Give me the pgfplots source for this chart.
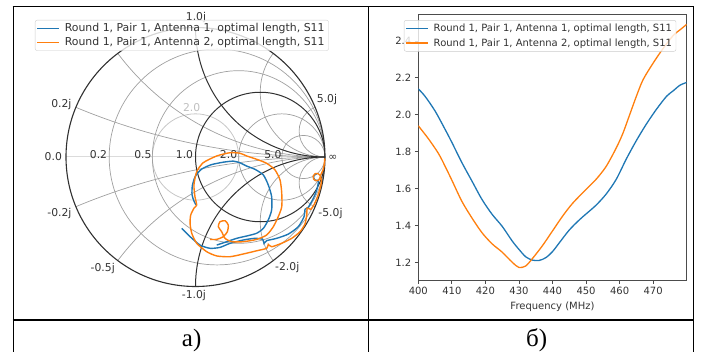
\documentclass[border=0pt]{standalone}
\usepackage{pgfplots}
\pgfplotsset{compat=1.18}
\usepackage{fontspec}
\setmainfont{DejaVu Sans}
\newfontfamily\capfont{Liberation Serif}
\definecolor{tabblue}{HTML}{1F77B4}
\definecolor{taborange}{HTML}{FF7F0E}
\definecolor{gridgray}{HTML}{A0A0A0}
\definecolor{griddark}{HTML}{303030}
\begin{document}
\begin{tikzpicture}
\useasboundingbox (0pt,0pt) rectangle (708pt,351pt);
% table frame
\draw[line width=1.6pt] (12.7pt,344.5pt) -- (694.1pt,344.5pt);
\draw[line width=1.6pt] (13.5pt,-1pt) -- (13.5pt,345.3pt);
\draw[line width=1.6pt] (368.3pt,-1pt) -- (368.3pt,345.3pt);
\draw[line width=1.6pt] (693.3pt,-1pt) -- (693.3pt,345.3pt);
\draw[line width=1.6pt] (12.7pt,31pt) -- (694.1pt,31pt);
\node[font=\capfont\fontsize{25}{25}\selectfont, anchor=base, inner sep=0] at (191.7pt,5pt) {а)};
\node[font=\capfont\fontsize{25}{25}\selectfont, anchor=base, inner sep=0] at (536.7pt,5pt) {б)};

% ---------------- Smith chart ----------------
\begin{axis}[
  at={(66pt,64.5pt)}, anchor=south west,
  scale only axis, width=259pt, height=259pt,
  xmin=-1, xmax=1, ymin=-1, ymax=1,
  hide axis, clip=false,
  legend style={at={(-0.1197,1.029)}, anchor=north west, draw=black!20, fill=white,
    fill opacity=0.8, draw opacity=1, text opacity=1, rounded corners=2pt,
    inner xsep=1.5pt, inner ysep=1pt, column sep=2.3pt, font=\fontsize{10.9}{12.5}\selectfont,
    nodes={inner xsep=2.5pt, inner ysep=2.2pt, text=black!80}, row sep=0pt},
  legend cell align=left,
  legend image code/.code={\draw[#1, line width=1.3pt] (0pt,0pt) -- (22pt,0pt);},
]
\begin{scope}
\clip (axis cs:0,0) circle[radius=1];
\draw[black!14, line width=1pt] (axis cs:-1,0) -- (axis cs:1,0);
\draw[black!22, line width=0.8pt] (axis cs:0,0) circle[radius=0.3333];
% resistance circles
\draw[gridgray, line width=0.7pt] (axis cs:0.16667,0) circle[radius=0.83333];
\draw[gridgray, line width=0.7pt] (axis cs:0.33333,0) circle[radius=0.66667];
\draw[gridgray, line width=0.7pt] (axis cs:0.66667,0) circle[radius=0.33333];
\draw[gridgray, line width=0.7pt] (axis cs:0.83333,0) circle[radius=0.16667];
% reactance arcs
\draw[gridgray, line width=0.7pt] (axis cs:1,5) circle[radius=5];
\draw[gridgray, line width=0.7pt] (axis cs:1,-5) circle[radius=5];
\draw[gridgray, line width=0.7pt] (axis cs:1,2) circle[radius=2];
\draw[gridgray, line width=0.7pt] (axis cs:1,-2) circle[radius=2];
\draw[gridgray, line width=0.7pt] (axis cs:1,0.5) circle[radius=0.5];
\draw[gridgray, line width=0.7pt] (axis cs:1,-0.5) circle[radius=0.5];
\draw[gridgray, line width=0.7pt] (axis cs:1,0.2) circle[radius=0.2];
\draw[gridgray, line width=0.7pt] (axis cs:1,-0.2) circle[radius=0.2];
% dark lines
\draw[griddark, line width=1pt] (axis cs:0.5,0) circle[radius=0.5];
\draw[griddark, line width=1pt] (axis cs:1,1) circle[radius=1];
\draw[griddark, line width=1pt] (axis cs:1,-1) circle[radius=1];
\end{scope}
\draw[griddark, line width=1.1pt] (axis cs:0,0) circle[radius=1];
% labels
\begin{scope}[every node/.style={font=\fontsize{10.8}{12}\selectfont, text=black!80, inner sep=0}]
\node[anchor=east] at (axis cs:-1.03,0.005) {0.0};
\node[anchor=east] at (axis cs:-0.681,0.015) {0.2};
\node[anchor=east] at (axis cs:-0.338,0.015) {0.5};
\node[anchor=east] at (axis cs:-0.017,0.015) {1.0};
\node[anchor=east] at (axis cs:0.323,0.015) {2.0};
\node[anchor=east] at (axis cs:0.666,0.015) {5.0};
\node[anchor=west] at (axis cs:1.025,-0.008) {∞};
\node[anchor=east] at (axis cs:-0.956,0.402) {0.2j};
\node[anchor=east] at (axis cs:-0.956,-0.435) {-0.2j};
\node[anchor=east] at (axis cs:-0.622,-0.859) {-0.5j};
\node[anchor=center] at (axis cs:-0.012,-1.066) {-1.0j};
\node[anchor=west] at (axis cs:0.614,-0.857) {-2.0j};
\node[anchor=west] at (axis cs:0.948,-0.435) {-5.0j};
\node[anchor=west] at (axis cs:0.936,0.440) {5.0j};
\node[anchor=center] at (axis cs:0.004,1.075) {1.0j};
\node[anchor=center, text=black!25] at (axis cs:-0.03,0.378) {2.0};
\end{scope}
% data
\addplot[tabblue, line width=1.4pt, smooth, tension=0.4] coordinates {
(-0.107,-0.551) (-0.042,-0.615) (0.035,-0.680) (0.112,-0.705) (0.189,-0.698)
(0.266,-0.667) (0.369,-0.641) (0.459,-0.628) (0.519,-0.636) (0.529,-0.667)
(0.550,-0.646) (0.627,-0.628) (0.717,-0.595) (0.794,-0.538) (0.838,-0.461)
(0.846,-0.404) (0.871,-0.388) (0.910,-0.319) (0.936,-0.255) (0.948,-0.200)
(0.945,-0.180) (0.925,-0.180) (0.912,-0.160) (0.918,-0.138) (0.935,-0.132)
};
\addlegendentry{Round 1, Pair 1, Antenna 1, optimal length, S11}
\addplot[tabblue, line width=1.4pt, smooth, tension=0.4, forget plot] coordinates {
(0.004,-0.370) (-0.012,-0.340) (-0.027,-0.290) (-0.024,-0.220) (-0.002,-0.150)
(0.045,-0.095) (0.120,-0.060) (0.215,-0.040) (0.292,-0.032) (0.344,-0.045)
(0.395,-0.070) (0.459,-0.095) (0.524,-0.139) (0.562,-0.216) (0.588,-0.306)
(0.588,-0.409) (0.562,-0.486) (0.524,-0.551) (0.472,-0.589) (0.395,-0.610)
(0.318,-0.628) (0.241,-0.654) (0.164,-0.680)
};
\addplot[taborange, line width=1.4pt, smooth, tension=0.4] coordinates {
(0.998,-0.010) (0.995,-0.050) (0.985,-0.100) (0.966,-0.140) (0.962,-0.160)
(0.950,-0.180) (0.930,-0.183) (0.911,-0.168) (0.910,-0.145) (0.925,-0.128)
(0.948,-0.130) (0.966,-0.150) (0.972,-0.190) (0.965,-0.230) (0.945,-0.300)
(0.915,-0.370) (0.890,-0.404) (0.862,-0.395) (0.860,-0.440) (0.846,-0.515)
(0.807,-0.577) (0.743,-0.628) (0.666,-0.666) (0.588,-0.693) (0.562,-0.675)
(0.550,-0.705) (0.473,-0.724) (0.369,-0.749) (0.266,-0.770) (0.164,-0.764)
(0.086,-0.731) (0.009,-0.666) (-0.029,-0.589) (-0.042,-0.512) (-0.037,-0.448)
(-0.012,-0.396) (0.009,-0.371) (-0.004,-0.307) (-0.012,-0.216) (0.009,-0.114)
(0.060,-0.044) (0.164,0.008) (0.266,0.033) (0.344,0.029) (0.395,0.008)
(0.473,-0.018) (0.550,-0.049) (0.614,-0.100) (0.653,-0.178) (0.666,-0.280)
(0.666,-0.384) (0.639,-0.461) (0.601,-0.538) (0.550,-0.602) (0.473,-0.636)
(0.369,-0.654) (0.280,-0.654) (0.228,-0.628) (0.202,-0.577) (0.176,-0.538)
(0.189,-0.500) (0.228,-0.492) (0.253,-0.525) (0.246,-0.577) (0.215,-0.615)
(0.164,-0.636) (0.112,-0.636)
};
\addlegendentry{Round 1, Pair 1, Antenna 2, optimal length, S11}
\end{axis}

% ---------------- VSWR plot ----------------
\begin{axis}[
  at={(418.3pt,71pt)}, anchor=south west,
  scale only axis, width=268.4pt, height=266pt,
  xmin=400, xmax=480, ymin=1.104, ymax=2.546,
  xtick={400,410,420,430,440,450,460,470},
  ytick={1.2,1.4,1.6,1.8,2.0,2.2,2.4},
  tick align=outside, tick pos=left, major tick length=3.5pt,
  axis line style={black!70, line width=0.8pt},
  every tick/.style={black!70, line width=0.8pt},
  /pgf/number format/assume math mode=true,
  ticklabel style={font=\fontsize{10}{12}\selectfont, text=black!80},
  yticklabel style={/pgf/number format/.cd, fixed, fixed zerofill, precision=1},
  xlabel={Frequency (MHz)},
  xlabel style={font=\fontsize{10}{12}\selectfont, text=black!80, at={(axis description cs:0.5,0)}, anchor=center, yshift=-26.5pt},
  legend style={at={(-0.0535,0.977)}, anchor=north west, draw=black!20, fill=white,
    fill opacity=0.8, draw opacity=1, text opacity=1, rounded corners=2pt,
    inner xsep=1.5pt, inner ysep=1pt, column sep=2.3pt, font=\fontsize{10}{12}\selectfont,
    nodes={inner xsep=2.5pt, inner ysep=2.7pt, text=black!80}, row sep=0pt},
  legend cell align=left,
  legend image code/.code={\draw[#1, line width=1.3pt] (0pt,0pt) -- (22pt,0pt);},
]
\addplot[tabblue, line width=1.3pt, smooth] coordinates {
(400,2.140) (402,2.100) (405,2.020) (408,1.920) (410,1.850) (413,1.740)
(416,1.640) (419,1.540) (422,1.460) (425,1.395) (428,1.315) (430,1.270)
(432,1.230) (434,1.212) (436,1.210) (438,1.225) (440,1.258) (442,1.305)
(445,1.375) (448,1.430) (450,1.462) (453,1.510) (456,1.570) (459,1.650)
(462,1.760) (465,1.860) (468,1.950) (471,2.030) (474,2.100) (476,2.130)
(478,2.160) (480,2.175)
};
\addlegendentry{Round 1, Pair 1, Antenna 1, optimal length, S11}
\addplot[taborange, line width=1.3pt, smooth] coordinates {
(400,1.940) (403,1.870) (406,1.790) (408,1.720) (410,1.645) (413,1.530)
(416,1.440) (419,1.360) (422,1.300) (425,1.255) (428,1.200) (430,1.172)
(432,1.180) (434,1.220) (437,1.290) (440,1.370) (443,1.450) (446,1.520)
(450,1.595) (453,1.650) (456,1.720) (459,1.820) (461,1.900) (463,2.000)
(465,2.100) (467,2.190) (470,2.280) (473,2.360) (476,2.430) (478,2.460)
(480,2.490)
};
\addlegendentry{Round 1, Pair 1, Antenna 2, optimal length, S11}
\end{axis}
\end{tikzpicture}
\end{document}
